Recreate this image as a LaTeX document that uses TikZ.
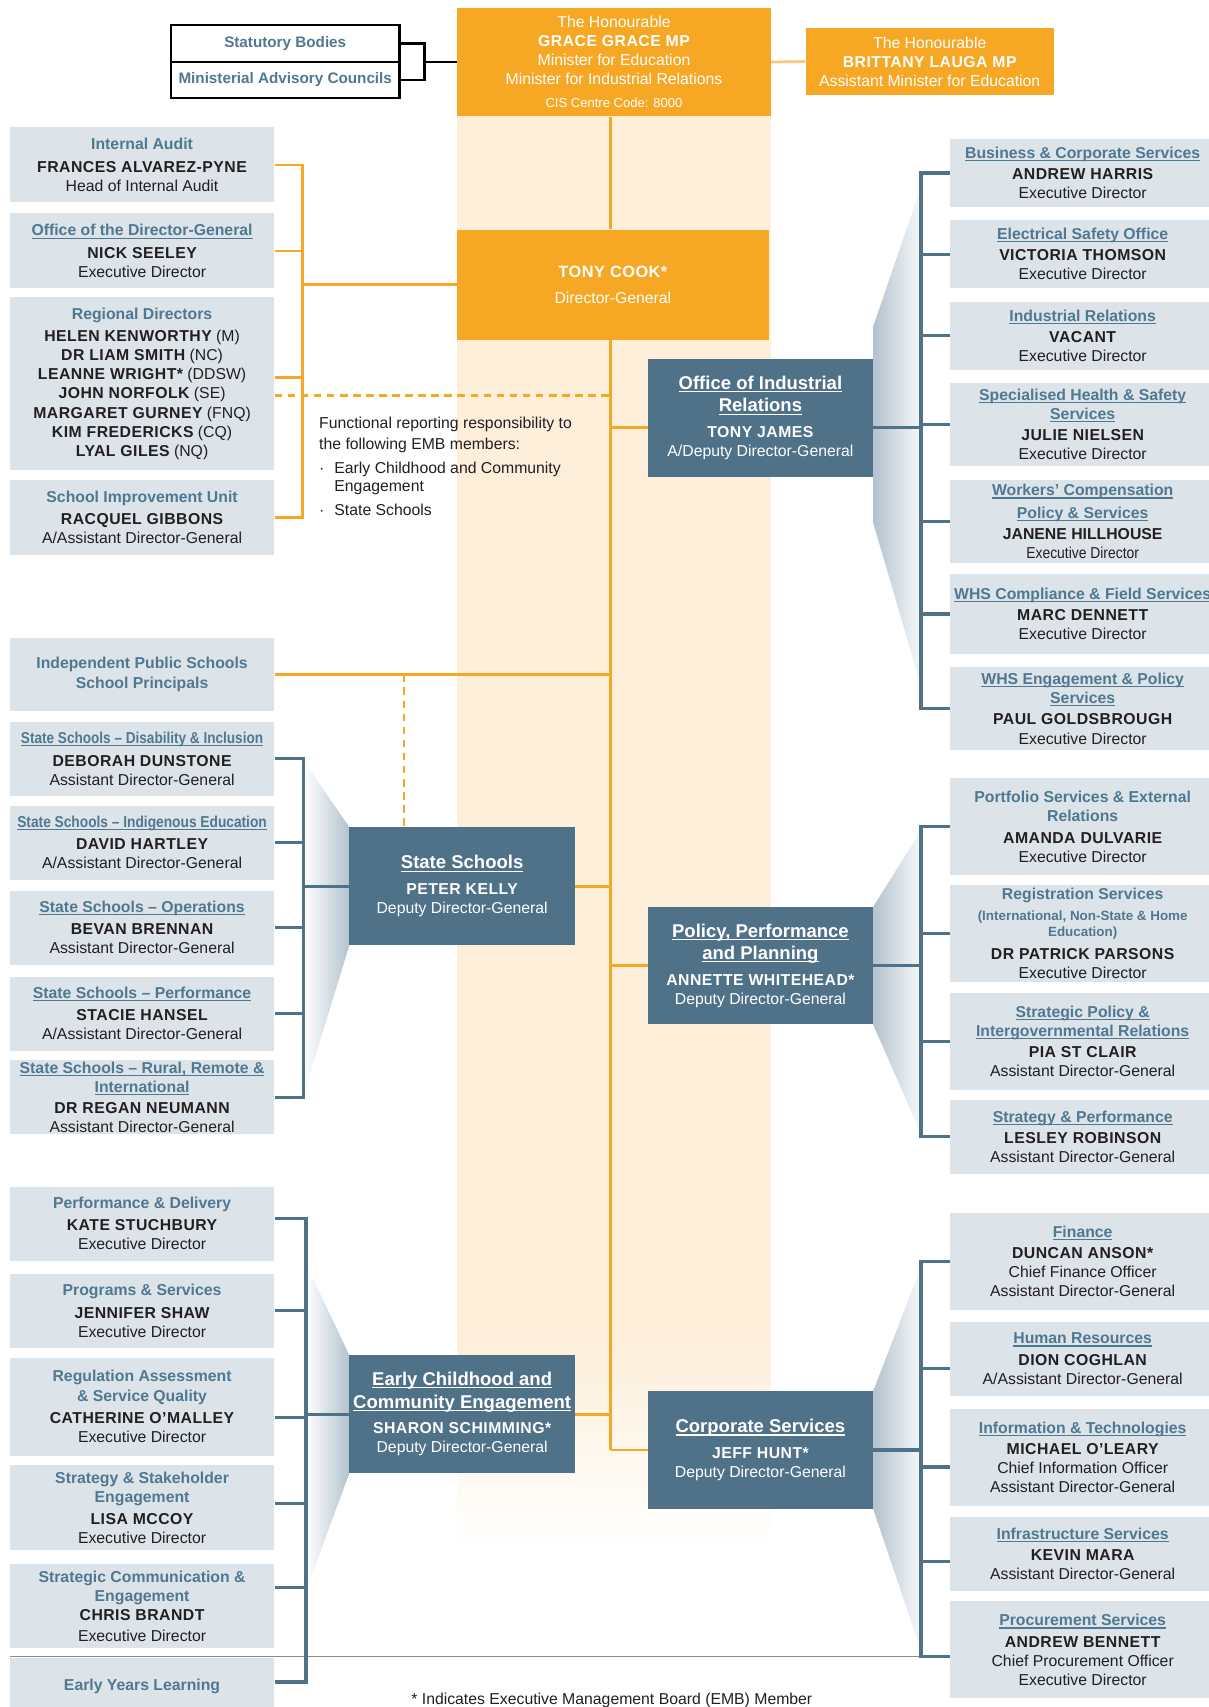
\documentclass[tikz,border=0pt]{standalone}
\usepackage{fontspec}
\usepackage{graphicx}
\setmainfont{Liberation Sans}
\newfontfamily\namefont{Liberation Sans}[LetterSpace=3.0]

\definecolor{orgorange}{RGB}{246,167,36}
\definecolor{bandorange}{RGB}{253,239,218}
\definecolor{linkorange}{RGB}{249,199,125}
\definecolor{deptblue}{RGB}{79,114,137}
\definecolor{unitgray}{RGB}{220,227,233}
\definecolor{titleblue}{RGB}{80,120,145}
\definecolor{nametext}{RGB}{35,31,32}
\definecolor{fangray}{RGB}{178,194,206}
\definecolor{rulegray}{RGB}{140,140,140}

\newcommand{\lnk}[1]{\leavevmode\setbox0\hbox{#1}\rlap{\rule[-2.5pt]{\wd0}{1pt}}\box0}
\newcommand{\utitle}[1]{{\bfseries\color{titleblue}#1}}
\newcommand{\uname}[1]{{\namefont\bfseries #1}}
\newcommand{\dtitle}[1]{{\fontsize{17}{20}\selectfont\bfseries\lnk{#1}}}

\tikzset{
  unit/.style={fill=unitgray, minimum width=243pt, inner sep=0pt, align=center,
    text=nametext, font=\fontsize{14.5}{17.5}\selectfont},
  dept/.style={fill=deptblue, minimum width=207pt, minimum height=108pt, inner sep=0pt,
    align=center, text=white, font=\fontsize{14.5}{17.5}\selectfont},
  minister/.style={fill=orgorange, inner sep=0pt, align=center, text=white,
    font=\fontsize{14.5}{17.5}\selectfont},
  council/.style={draw=black, line width=2.5pt, fill=white, minimum width=210pt,
    inner sep=0pt, text=titleblue, font=\fontsize{14}{17}\selectfont\bfseries},
  note/.style={anchor=north west, inner sep=0pt, align=left, text=nametext,
    font=\fontsize{14.5}{19}\selectfont},
  orgline/.style={draw=orgorange, line width=2.5pt},
  funcline/.style={orgline, dash pattern=on 7pt off 5pt},
  blueline/.style={draw=deptblue, line width=3pt},
  fanleft/.style={left color=white, right color=fangray},
  fanright/.style={left color=fangray, right color=fangray!10}
}

\begin{document}
\begin{tikzpicture}[x=1pt, y=-1pt]

   \fill[white] (0,0) rectangle (1110,1568);
   \useasboundingbox (0,0) rectangle (1110,1568);

   % band behind the spine
   \fill[bandorange] (420,107) rectangle (708,1230);
   \shade[top color=bandorange, bottom color=white] (420,1230) rectangle (708,1420);

   % fans between the deputies and their brackets
   \shade[fanleft] (279,699) -- (321,760) -- (321,868) -- (279,1005) -- cycle;
   \shade[fanleft] (281,1161) -- (321,1245) -- (321,1353) -- (281,1461) -- cycle;
   \shade[fanright] (802,300) -- (846,172) -- (846,630) -- (802,480) -- cycle;
   \shade[fanright] (802,833) -- (846,763) -- (846,1041) -- (802,941) -- cycle;
   \shade[fanright] (802,1278) -- (846,1164) -- (846,1516) -- (802,1386) -- cycle;

   % ministers
   \node[council, minimum height=34pt] (statutory) at (262,40) {Statutory Bodies};
   \node[council, minimum height=33pt] (advisory) at (262,73.5) {Ministerial Advisory Councils};
   \node[minister, minimum width=288pt, minimum height=100pt] (minister) at (564,57)
      {The Honourable\\\uname{GRACE GRACE MP}\\Minister for Education\\Minister for Industrial Relations\\[4pt]{\fontsize{12}{14}\selectfont CIS Centre Code: 8000}};
   \node[minister, minimum width=228pt, minimum height=61pt] (assistant) at (854,56.5)
      {The Honourable\\\uname{BRITTANY LAUGA MP}\\Assistant Minister for Education};
   \node[minister, minimum width=286pt, minimum height=101pt] (dg) at (563,261.5)
      {{\fontsize{15}{18}\selectfont\uname{TONY COOK*}}\\[6pt]Director-General};

   % office of the Director-General
   \node[unit, minimum height=69pt] (audit) at (130.5,151.5)
      {\utitle{Internal Audit}\\[3pt]\uname{FRANCES ALVAREZ-PYNE}\\Head of Internal Audit};
   \node[unit, minimum height=69pt] (odg) at (130.5,230.5)
      {\utitle{\lnk{Office of the Director-General}}\\[3pt]\uname{NICK SEELEY}\\Executive Director};
   \node[unit, minimum height=159pt] (regional) at (130.5,352.5)
      {\utitle{Regional Directors}\\[3pt]\uname{HELEN KENWORTHY} (M)\\\uname{DR LIAM SMITH} (NC)\\\uname{LEANNE WRIGHT*} (DDSW)\\\uname{JOHN NORFOLK} (SE)\\\uname{MARGARET GURNEY} (FNQ)\\\uname{KIM FREDERICKS} (CQ)\\\uname{LYAL GILES} (NQ)};
   \node[unit, minimum height=69pt] (siu) at (130.5,475.5)
      {\utitle{School Improvement Unit}\\[3pt]\uname{RACQUEL GIBBONS}\\A/Assistant Director-General};
   \node[note] (note) at (293,383)
      {Functional reporting responsibility to\\the following EMB members:\\[3pt]\makebox[14pt][l]{·}Early Childhood and Community\\[-2pt]\hspace*{14pt}Engagement\\[3pt]\makebox[14pt][l]{·}State Schools};

   % state schools
   \node[unit, minimum height=67pt] (ips) at (130.5,619.5)
      {\utitle{Independent Public Schools}\\\utitle{School Principals}};
   \node[unit, minimum height=68pt] (ssdi) at (130.5,697)
      {\utitle{\scalebox{0.86}[1]{\lnk{State Schools -- Disability \& Inclusion}}}\\[3pt]\uname{DEBORAH DUNSTONE}\\Assistant Director-General};
   \node[unit, minimum height=68pt] (ssie) at (130.5,774)
      {\utitle{\scalebox{0.87}[1]{\lnk{State Schools -- Indigenous Education}}}\\[3pt]\uname{DAVID HARTLEY}\\A/Assistant Director-General};
   \node[unit, minimum height=68pt] (ssop) at (130.5,852)
      {\utitle{\lnk{State Schools -- Operations}}\\[3pt]\uname{BEVAN BRENNAN}\\Assistant Director-General};
   \node[unit, minimum height=68pt] (sspe) at (130.5,931)
      {\utitle{\lnk{State Schools -- Performance}}\\[3pt]\uname{STACIE HANSEL}\\A/Assistant Director-General};
   \node[unit, minimum height=68pt] (ssrr) at (130.5,1008)
      {\utitle{\lnk{State Schools -- Rural, Remote \&}}\\\utitle{\lnk{International}}\\[2pt]\uname{DR REGAN NEUMANN}\\Assistant Director-General};
   \node[dept] (ss) at (424.5,814)
      {\dtitle{State Schools}\\[6pt]\uname{PETER KELLY}\\Deputy Director-General};

   % early childhood
   \node[unit, minimum height=68pt] (pd) at (130.5,1124)
      {\utitle{Performance \& Delivery}\\[3pt]\uname{KATE STUCHBURY}\\Executive Director};
   \node[unit, minimum height=68pt] (ps) at (130.5,1204)
      {\utitle{Programs \& Services}\\[3pt]\uname{JENNIFER SHAW}\\Executive Director};
   \node[unit, minimum height=90pt] (ra) at (130.5,1292)
      {\utitle{Regulation Assessment}\\\utitle{\& Service Quality}\\[3pt]\uname{CATHERINE O’MALLEY}\\Executive Director};
   \node[unit, minimum height=78pt] (sse) at (130.5,1385)
      {\utitle{Strategy \& Stakeholder}\\\utitle{Engagement}\\[2pt]\uname{LISA MCCOY}\\Executive Director};
   \node[unit, minimum height=77pt] (sce) at (130.5,1475.5)
      {\utitle{Strategic Communication \&}\\\utitle{Engagement}\\\uname{CHRIS BRANDT}\\[2pt]Executive Director};
   \node[unit, minimum height=52pt] (eyl) at (130.5,1549)
      {\utitle{Early Years Learning}};
   \node[dept] (ecce) at (424.5,1299)
      {\dtitle{Early Childhood and}\\[3pt]\dtitle{Community Engagement}\\[6pt]\uname{SHARON SCHIMMING*}\\Deputy Director-General};

   % industrial relations
   \node[dept] (oir) at (698.5,384)
      {\dtitle{Office of Industrial}\\[3pt]\dtitle{Relations}\\[6pt]\uname{TONY JAMES}\\A/Deputy Director-General};
   \node[unit, minimum height=62pt] (bcs) at (994.5,159)
      {\utitle{\lnk{Business \& Corporate Services}}\\[2pt]\uname{ANDREW HARRIS}\\Executive Director};
   \node[unit, minimum height=63pt] (eso) at (994.5,233.5)
      {\utitle{\lnk{Electrical Safety Office}}\\[2pt]\uname{VICTORIA THOMSON}\\Executive Director};
   \node[unit, minimum height=63pt] (ir) at (994.5,308.5)
      {\utitle{\lnk{Industrial Relations}}\\[2pt]\uname{VACANT}\\Executive Director};
   \node[unit, minimum height=76pt] (shs) at (994.5,390)
      {\utitle{\lnk{Specialised Health \& Safety}}\\\utitle{\lnk{Services}}\\[2pt]\uname{JULIE NIELSEN}\\Executive Director};
   \node[unit, minimum height=76pt] (wcp) at (994.5,479)
      {\utitle{\lnk{Workers' Compensation}}\\[3pt]\utitle{\lnk{Policy \& Services}}\\[2pt]{\bfseries JANENE HILLHOUSE}\\\scalebox{0.88}[1]{Executive Director}};
   \node[unit, minimum height=74pt] (whsc) at (994.5,564)
      {\utitle{\lnk{WHS Compliance \& Field Services}}\\[2pt]\uname{MARC DENNETT}\\Executive Director};
   \node[unit, minimum height=76pt] (whse) at (994.5,651)
      {\utitle{\lnk{WHS Engagement \& Policy}}\\\utitle{\lnk{Services}}\\[2pt]\uname{PAUL GOLDSBROUGH}\\Executive Director};

   % policy, performance and planning
   \node[dept] (ppp) at (698.5,887)
      {\dtitle{Policy, Performance}\\[3pt]\dtitle{and Planning}\\[6pt]\uname{ANNETTE WHITEHEAD*}\\Deputy Director-General};
   \node[unit, minimum height=89pt] (psr) at (994.5,759.5)
      {\utitle{Portfolio Services \& External}\\\utitle{Relations}\\[2pt]\uname{AMANDA DULVARIE}\\Executive Director};
   \node[unit, minimum height=89pt] (reg) at (994.5,857.5)
      {\utitle{Registration Services}\\[1pt]{\fontsize{12.3}{14}\selectfont\utitle{(International, Non-State \& Home}}\\[-2pt]{\fontsize{12.3}{14}\selectfont\utitle{Education)}}\\[3pt]\uname{DR PATRICK PARSONS}\\Executive Director};
   \node[unit, minimum height=89pt] (spir) at (994.5,956.5)
      {\utitle{\lnk{Strategic Policy \&}}\\\utitle{\lnk{Intergovernmental Relations}}\\[2pt]\uname{PIA ST CLAIR}\\Assistant Director-General};
   \node[unit, minimum height=68pt] (sp) at (994.5,1044)
      {\utitle{\lnk{Strategy \& Performance}}\\[2pt]\uname{LESLEY ROBINSON}\\Assistant Director-General};

   % corporate services
   \node[dept] (corp) at (698.5,1332)
      {\dtitle{Corporate Services}\\[6pt]\uname{JEFF HUNT*}\\Deputy Director-General};
   \node[unit, minimum height=89pt] (fin) at (994.5,1158.5)
      {\utitle{\lnk{Finance}}\\[2pt]\uname{DUNCAN ANSON*}\\Chief Finance Officer\\Assistant Director-General};
   \node[unit, minimum height=68pt] (hr) at (994.5,1248)
      {\utitle{\lnk{Human Resources}}\\[2pt]\uname{DION COGHLAN}\\A/Assistant Director-General};
   \node[unit, minimum height=89pt] (it) at (994.5,1338.5)
      {\utitle{\lnk{Information \& Technologies}}\\[2pt]\uname{MICHAEL O’LEARY}\\Chief Information Officer\\Assistant Director-General};
   \node[unit, minimum height=68pt] (inf) at (994.5,1427)
      {\utitle{\lnk{Infrastructure Services}}\\[2pt]\uname{KEVIN MARA}\\Assistant Director-General};
   \node[unit, minimum height=89pt] (proc) at (994.5,1515.5)
      {\utitle{\lnk{Procurement Services}}\\[2pt]\uname{ANDREW BENNETT}\\Chief Procurement Officer\\Executive Director};

   \node[text=nametext, font=\fontsize{14.5}{17.5}\selectfont] (footnote) at (562,1562)
      {* Indicates Executive Management Board (EMB) Member};

   % bracket and link points
   \coordinate (topbar) at (390,0);
   \coordinate (spine) at (561,0);
   \coordinate (dgbar) at (278,0);
   \coordinate (ssbar) at (279,0);
   \coordinate (ssdash) at (371,0);
   \coordinate (ecbar) at (281,0);
   \coordinate (rightbar) at (846,0);
   \coordinate (regport) at ([yshift=6pt]regional.east);
   \coordinate (funcport) at ([yshift=-10.5pt]regional.east);
   \coordinate (oirport) at ([yshift=-9pt]oir.west);
   \coordinate (oirout) at ([yshift=-9pt]oir.east);
   \coordinate (pdport) at ([yshift=5pt]pd.east);
   \coordinate (raport) at ([yshift=-10pt]ra.east);
   \coordinate (sseport) at ([yshift=4pt]sse.east);
   \coordinate (sceport) at ([yshift=17pt]sce.east);
   \coordinate (eylport) at ([yshift=4pt]eyl.east);
   \coordinate (hrport) at ([yshift=-9pt]hr.west);
   \coordinate (itport) at ([yshift=-9pt]it.west);
   \coordinate (infport) at ([yshift=-7pt]inf.west);
   \coordinate (procport) at ([yshift=-6pt]proc.west);

   \draw[rulegray, line width=1.5pt] (procport -| eyl.west) -- (procport -| rightbar);

   % ministers
   \draw[line width=2.5pt] (statutory.east) -- (statutory.east -| topbar)
      -- (advisory.east -| topbar) -- (advisory.east);
   \draw[line width=2.5pt] (topbar |- minister.west) -- (minister.west);
   \draw[draw=linkorange, line width=2.5pt] (minister.east) -- (assistant.west);

   % spine
   \draw[orgline] (minister.south -| spine) -- (dg.north -| spine);
   \draw[orgline] (dg.south -| spine) -- (corp.west -| spine);

   % office of the Director-General
   \draw[orgline] (audit.east) -- (audit.east -| dgbar) -- (siu.east -| dgbar) -- (siu.east);
   \draw[orgline] (odg.east) -- (odg.east -| dgbar);
   \draw[orgline] (regport) -- (regport -| dgbar);
   \draw[orgline] (dgbar |- dg.west) -- (dg.west);
   \draw[funcline] (funcport) -- (funcport -| spine);

   % state schools
   \draw[orgline] (ips.east) -- (ips.east -| spine);
   \draw[funcline] (ips.east -| ssdash) -- (ss.north -| ssdash);
   \draw[orgline] (ss.east) -- (ss.east -| spine);
   \draw[blueline] (ssdi.east) -- (ssdi.east -| ssbar) -- (ssrr.east -| ssbar) -- (ssrr.east);
   \foreach \u in {ssie,ssop,sspe}
      \draw[blueline] (\u.east) -- (\u.east -| ssbar);
   \draw[blueline] (ssbar |- ss.west) -- (ss.west);

   % early childhood
   \draw[orgline] (ecce.east) -- (ecce.east -| spine);
   \draw[blueline] (pdport) -- (pdport -| ecbar) -- (eylport -| ecbar) -- (eylport);
   \foreach \p in {ps.east,raport,sseport,sceport}
      \draw[blueline] (\p) -- (\p -| ecbar);
   \draw[blueline] (ecbar |- ecce.west) -- (ecce.west);

   % industrial relations
   \draw[orgline] (oirport -| spine) -- (oirport);
   \draw[blueline] (bcs.west) -- (bcs.west -| rightbar) -- (whse.west -| rightbar) -- (whse.west);
   \foreach \u in {eso,ir,shs,wcp,whsc}
      \draw[blueline] (\u.west) -- (\u.west -| rightbar);
   \draw[blueline] (oirout) -- (oirout -| rightbar);

   % policy, performance and planning
   \draw[orgline] (ppp.west -| spine) -- (ppp.west);
   \draw[blueline] (psr.west) -- (psr.west -| rightbar) -- (sp.west -| rightbar) -- (sp.west);
   \foreach \u in {reg,spir}
      \draw[blueline] (\u.west) -- (\u.west -| rightbar);
   \draw[blueline] (ppp.east) -- (ppp.east -| rightbar);

   % corporate services
   \draw[orgline] (corp.west -| spine) -- (corp.west);
   \draw[blueline] (fin.west) -- (fin.west -| rightbar) -- (procport -| rightbar) -- (procport);
   \foreach \p in {hrport,itport,infport}
      \draw[blueline] (\p) -- (\p -| rightbar);
   \draw[blueline] (corp.east) -- (corp.east -| rightbar);

\end{tikzpicture}
\end{document}
